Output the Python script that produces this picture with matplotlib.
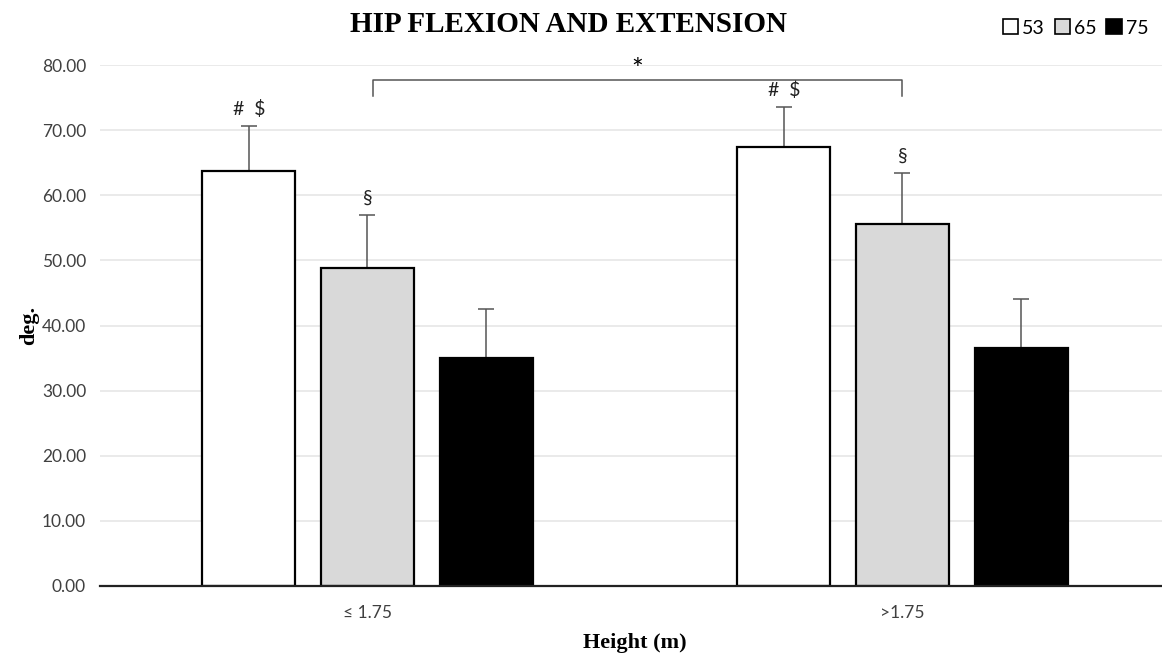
import numpy as np
import matplotlib.pyplot as plt
from matplotlib.patches import Patch

# mean hip range (deg.) by height group, one series per age
groups = ['≤ 1.75', '>1.75']
series = ['53', '65', '75']
means = {
    '53': [63.7, 67.4],
    '65': [48.8, 55.6],
    '75': [35.0, 36.6],
}
sd = {
    '53': [6.9, 6.1],
    '65': [8.1, 7.8],
    '75': [7.5, 7.4],
}
marks = {
    '53': ['#  $', '#  $'],
    '65': ['§', '§'],
    '75': ['', ''],
}
fills = {'53': 'white', '65': '#d9d9d9', '75': 'black'}

serif = 'Liberation Serif'
sans = 'Lato'

fig = plt.figure(figsize=(11.62, 6.57), dpi=100)
ax = fig.add_axes([100 / 1162, 1 - 586 / 657, 1070 / 1162, 521 / 657])

x = np.arange(len(groups))
step = 0.222
width = 0.174
for i, s in enumerate(series):
    pos = x + (i - 1) * step
    ax.bar(pos, means[s], width, color=fills[s], edgecolor='black',
           linewidth=1.6, zorder=3)
    ax.errorbar(pos, means[s], yerr=[np.zeros(len(groups)), sd[s]],
                fmt='none', ecolor='#555555', elinewidth=1.1, capsize=6,
                capthick=1.1, zorder=2)
    for p, m, e, t in zip(pos, means[s], sd[s], marks[s]):
        if t:
            ax.text(p, m + e + 1.3, t, ha='center', va='bottom',
                    fontsize=14, family=sans, color='#222222')

# significance bracket between groups
bx0, bx1, by, drop = 0.01, 1.0, 77.7, 2.4
ax.plot([bx0, bx0, bx1, bx1], [by - drop, by, by, by - drop],
        color='#555555', lw=1.1, zorder=4)
ax.text((bx0 + bx1) / 2, by - 0.6, '*', ha='center', va='bottom',
        fontsize=20, family=sans)

ax.set_xlim(-0.5, 1.5)
ax.set_ylim(0, 80)
ax.set_yticks(np.arange(0, 81, 10))
ax.set_yticklabels([f'{v:.2f}' for v in range(0, 81, 10)],
                   family=sans, fontsize=12.5, color='#404040')
ax.set_xticks(x)
ax.set_xticklabels(groups, family=sans, fontsize=12.5, color='#404040')
ax.tick_params(length=0, pad=10)
ax.tick_params(axis='x', pad=14)
ax.grid(axis='y', color='#e6e6e6', lw=1.2, zorder=0)
ax.set_axisbelow(True)
for side in ['top', 'right', 'left']:
    ax.spines[side].set_visible(False)
ax.spines['bottom'].set_color('#222222')
ax.spines['bottom'].set_linewidth(1.6)
ax.spines['bottom'].set_zorder(5)

ax.set_ylabel('deg.', family=serif, fontweight='bold', fontsize=16,
              labelpad=2)
ax.set_xlabel('Height (m)', family=serif, fontweight='bold', fontsize=16,
              labelpad=8)
fig.text(568 / 1162, 1 - 24 / 657, 'HIP FLEXION AND EXTENSION',
         family=serif, fontweight='bold', fontsize=21,
         ha='center', va='center')

handles = [Patch(facecolor=fills[s], edgecolor='black', linewidth=1.2)
           for s in series]
fig.legend(handles, series, loc='center right',
           bbox_to_anchor=(1.0, 1 - 28 / 657), ncol=3, frameon=False,
           prop={'family': sans, 'size': 14}, handlelength=0.8,
           handleheight=0.8, handletextpad=0.2, columnspacing=0.5,
           borderaxespad=0.3)

fig.savefig('out.png', dpi=100)
